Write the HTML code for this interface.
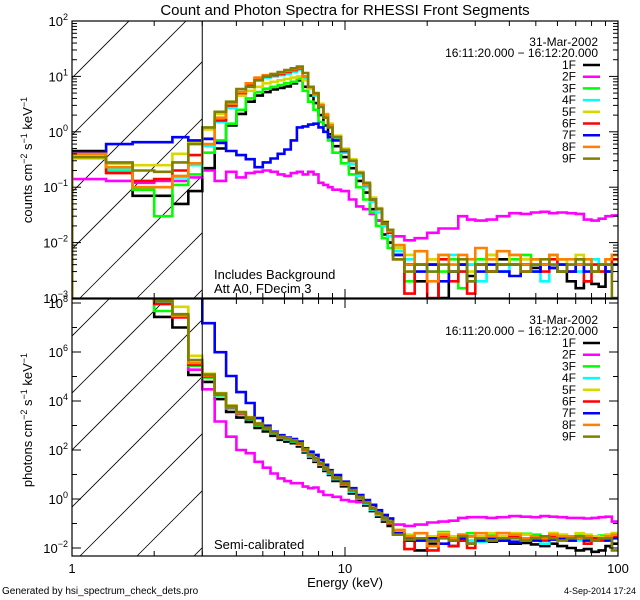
<!DOCTYPE html>
<html><head><meta charset="utf-8"><style>
html,body{margin:0;padding:0;background:#fff;}
svg{display:block;font-family:"Liberation Sans",sans-serif;}
</style></head><body>
<svg id="chart" width="640" height="600" viewBox="0 0 640 600">
<defs>
<clipPath id="cTop"><rect x="72" y="21" width="546" height="277"/></clipPath>
<clipPath id="cBot"><rect x="72" y="299" width="546" height="257"/></clipPath>
<clipPath id="hTop"><rect x="72" y="21" width="130" height="277"/></clipPath>
<clipPath id="hBot"><rect x="72" y="299" width="130" height="257"/></clipPath>
</defs>
<text x="345" y="15" text-anchor="middle" font-size="15">Count and Photon Spectra for RHESSI Front Segments</text>
<g id="g"></g>
<text x="345" y="587" text-anchor="middle" font-size="13">Energy (keV)</text>
<text x="2" y="594" font-size="10">Generated by hsi_spectrum_check_dets.pro</text>
<text x="636" y="594" text-anchor="end" font-size="9">4-Sep-2014 17:24</text>
<text x="214" y="279" font-size="13">Includes Background</text>
<text x="214" y="293" font-size="13">Att A0, FDecim 3</text>
<text x="214" y="549" font-size="13">Semi-calibrated</text>
</svg>
<script>
const edges=[1,1.333,1.667,2,2.333,2.667,3,3.333,3.667,4,4.333,4.667,5,5.333,5.667,6,6.333,6.667,7,7.333,7.667,8,8.333,8.667,9,9.667,10.333,11,11.667,12.333,13,13.667,14.333,15,16.5,18,20,22,24,26,28,30,33,36,40,44,48,52,56,60,65,70,75,80,85,90,95,100];
const detectors=["1F","2F","3F","4F","5F","6F","7F","8F","9F"];
const colors=["#000000","#ff00ff","#00ff00","#00ffff","#d8d800","#ff0000","#0000ff","#ff8000","#808000"];
const xTicks=[1,10,100];
const topTickExps=[2,1,0,-1,-2,-3];
const botTickExps=[8,6,4,2,0,-2];
// count spectra
const cnt1F=[0.45,0.27,0.07,0.07,0.05,0.085, 0.22,0.5,1.3,2.1,3.5,4.5,5.2,5.8,6.2,6.6,7.5,8.5,6.5,4.5,3.3,2.0,1.3,0.9, 0.55,0.35,0.22,0.13,0.08,0.04,0.025,0.014,0.01, 0.006,0.004,0.002,0.004,0.001,0.003,0.004,0.0025,0.004,0.003,0.005,0.004,0.004,0.0035,0.004,0.0035,0.003,0.002,0.0015,0.002,0.0018,0.0016,0.003,0.004];
const cnt2F=[0.14,0.13,0.12,0.13,0.13,0.15, 0.2,0.13,0.19,0.15,0.18,0.19,0.2,0.19,0.17,0.16,0.18,0.19,0.17,0.19,0.17,0.12,0.11,0.1, 0.09,0.085,0.06,0.045,0.04,0.033,0.025,0.02,0.016, 0.013,0.011,0.012,0.015,0.018,0.018,0.03,0.026,0.025,0.026,0.03,0.034,0.033,0.035,0.036,0.034,0.035,0.034,0.033,0.026,0.025,0.027,0.03,0.031];
const cnt3F=[0.4,0.2,0.09,0.03,0.11,0.17, 0.42,0.7,1.4,2.5,4,5.2,6,6.5,7,7.5,8,9,5.5,3.5,2.5,1.5,1.0,0.7, 0.42,0.27,0.17,0.1,0.06,0.035,0.02,0.012,0.008, 0.008,0.002,0.004,0.005,0.003,0.005,0.0015,0.004,0.005,0.006,0.004,0.005,0.006,0.005,0.004,0.006,0.005,0.004,0.005,0.004,0.003,0.004,0.005,0.005];
const cnt4F=[0.4,0.21,0.1,0.1,0.15,0.25, 0.55,1.5,2.7,4.5,6.5,8.5,9.5,10,10.5,11,12,13,9,6,4.5,3,2,1.3, 0.75,0.42,0.26,0.16,0.1,0.055,0.035,0.02,0.013, 0.007,0.005,0.004,0.003,0.005,0.006,0.003,0.004,0.002,0.005,0.003,0.004,0.005,0.003,0.002,0.004,0.005,0.004,0.003,0.004,0.005,0.004,0.003,0.004];
const cnt5F=[0.33,0.27,0.25,0.25,0.4,0.65, 1.1,2.1,3.0,4.5,5.5,6.5,7.5,8,8.5,9,9.5,10,8.5,6,4.8,3.2,2.1,1.4, 0.85,0.5,0.32,0.19,0.12,0.065,0.042,0.024,0.017, 0.008,0.006,0.004,0.005,0.006,0.004,0.005,0.003,0.004,0.006,0.004,0.006,0.005,0.005,0.004,0.006,0.005,0.004,0.006,0.005,0.004,0.003,0.005,0.006];
const cnt6F=[0.4,0.18,0.13,0.14,0.2,0.38, 0.75,1.6,3.0,5,7,9,10,10.5,11,12,13,14,10,6.5,4.8,3,2,1.3, 0.8,0.45,0.3,0.18,0.11,0.06,0.04,0.022,0.015, 0.005,0.0012,0.004,0.001,0.005,0.002,0.003,0.0012,0.004,0.003,0.004,0.004,0.003,0.004,0.003,0.005,0.004,0.003,0.004,0.002,0.004,0.003,0.004,0.005];
const cnt7F=[0.42,0.6,0.65,0.65,0.8,0.7, 0.74,0.63,0.45,0.38,0.32,0.23,0.28,0.33,0.4,0.48,0.7,1.2,1.25,1.35,1.4,1.2,1.0,0.8, 0.7,0.45,0.3,0.18,0.11,0.06,0.04,0.023,0.017, 0.006,0.004,0.003,0.004,0.002,0.003,0.004,0.002,0.003,0.004,0.003,0.0025,0.004,0.003,0.004,0.0035,0.004,0.003,0.004,0.003,0.003,0.004,0.003,0.004];
const cnt8F=[0.4,0.23,0.1,0.1,0.16,0.27, 0.6,1.8,3.2,5.2,7.5,9.5,10.5,11,11.5,12.5,13.5,14.5,10,6.5,4.8,3,2,1.3, 0.8,0.47,0.3,0.18,0.11,0.06,0.04,0.022,0.016, 0.009,0.004,0.007,0.002,0.006,0.004,0.006,0.005,0.008,0.005,0.007,0.006,0.004,0.005,0.004,0.006,0.005,0.005,0.004,0.005,0.003,0.004,0.005,0.006];
const cnt9F=[0.35,0.28,0.2,0.19,0.28,0.6, 1.2,2.3,3.5,5.9,6.5,8.5,10,11,12,13,14,15,11.5,6.5,5,2.8,1.8,1.2, 0.8,0.47,0.3,0.18,0.12,0.06,0.04,0.022,0.017, 0.005,0.003,0.004,0.003,0.004,0.003,0.005,0.002,0.004,0.003,0.004,0.004,0.003,0.004,0.005,0.004,0.003,0.004,0.005,0.004,0.003,0.004,0.004,0.001];
// photon spectra
const ph1F=[1e9,1e9,1e9,2.7e7,1e7,1.15e5, 6e4,1.2e4,3.6e3,2.1e3,1.4e3,800,570,380,260,220,190,140,80,48,33,21,14,9.5, 5.5,3.3,1.7,0.9,0.55,0.32,0.19,0.12,0.08, 0.04,0.02,0.008,0.015,0.03,0.012,0.02,0.015,0.02,0.018,0.02,0.015,0.016,0.014,0.012,0.015,0.012,0.01,0.008,0.009,0.007,0.008,0.012,0.015];
const ph2F=[1e9,1e9,1e9,1.3e8,2.6e7,1.9e5, 3e4,1.45e3,350,100,74,33,19,11,6.9,5.4,4.4,4.4,3.2,2.75,2.95,2,1.45,1.45, 1.23,0.91,0.8,0.74,0.63,0.49,0.3,0.22,0.16, 0.09,0.08,0.09,0.11,0.12,0.13,0.17,0.18,0.18,0.17,0.18,0.2,0.19,0.18,0.2,0.19,0.18,0.17,0.17,0.16,0.17,0.18,0.19,0.12];
const ph3F=[1e9,1e9,1e9,4.7e7,2.8e7,2.7e5, 9e4,1.7e4,5e3,2.8e3,1.8e3,1e3,720,470,310,265,225,165,95,58,40,26,16.5,11.5, 6.8,4,2.1,1.1,0.67,0.38,0.23,0.15,0.1, 0.05,0.03,0.02,0.03,0.045,0.025,0.035,0.04,0.03,0.035,0.04,0.03,0.038,0.035,0.03,0.04,0.035,0.03,0.035,0.03,0.028,0.032,0.035,0.04];
const ph4F=[1e9,1e9,1e9,1e8,3e7,3e5, 1e5,1.75e4,5.4e3,3e3,1.85e3,1.05e3,730,480,320,270,230,170,90,55,38,25,16,11, 6.5,3.9,2,1.05,0.65,0.37,0.22,0.14,0.1, 0.045,0.028,0.025,0.02,0.03,0.02,0.025,0.02,0.018,0.03,0.025,0.03,0.025,0.02,0.015,0.025,0.03,0.025,0.02,0.025,0.03,0.025,0.022,0.03];
const ph5F=[1e9,1e9,1e9,1.3e8,7e7,7e5, 1.3e5,2.1e4,6.5e3,3.6e3,2.2e3,1.25e3,850,540,360,310,260,200,120,70,48,30,20,13.5, 7.8,4.6,2.4,1.3,0.78,0.45,0.28,0.18,0.12, 0.05,0.035,0.025,0.03,0.04,0.03,0.035,0.028,0.03,0.04,0.03,0.04,0.035,0.03,0.03,0.04,0.035,0.03,0.04,0.035,0.03,0.028,0.035,0.04];
const ph6F=[1e9,1e9,1e9,9e7,2.6e7,3e5, 1e5,1.8e4,5.6e3,3.1e3,1.9e3,1.1e3,760,500,330,280,240,180,100,62,42,27,17,12, 7,4.2,2.2,1.15,0.7,0.4,0.25,0.15,0.1, 0.035,0.009,0.025,0.008,0.03,0.012,0.02,0.01,0.025,0.02,0.025,0.03,0.022,0.025,0.02,0.03,0.025,0.02,0.025,0.015,0.025,0.02,0.025,0.03];
const ph7F=[1e9,1e9,1e9,1e9,1e9,1e9, 1.5e7,9.8e5,1.05e5,2.3e4,8.3e3,2e3,980,560,400,320,280,220,117,85,63,39,25,15, 9.5,5.1,2.75,1.45,0.91,0.58,0.35,0.22,0.16, 0.04,0.025,0.02,0.025,0.015,0.02,0.025,0.015,0.02,0.025,0.02,0.018,0.025,0.02,0.025,0.022,0.025,0.02,0.025,0.02,0.02,0.025,0.02,0.025];
const ph8F=[1e9,1e9,1e9,1.3e8,3e7,3.6e5, 1.1e5,1.9e4,6e3,3.3e3,2e3,1.15e3,790,510,340,290,245,185,105,64,44,28,18,12.5, 7.2,4.3,2.2,1.2,0.72,0.41,0.25,0.16,0.11, 0.055,0.03,0.04,0.012,0.035,0.025,0.035,0.03,0.04,0.03,0.04,0.035,0.025,0.03,0.025,0.035,0.03,0.03,0.025,0.03,0.02,0.025,0.03,0.035];
const ph9F=[1e9,1e9,1e9,1.2e8,3.5e7,4.7e5, 1.2e5,2e4,6.3e3,3.5e3,2.1e3,1.2e3,810,520,350,300,250,190,110,66,46,29,19,13, 7.4,4.4,2.3,1.2,0.74,0.42,0.26,0.17,0.12, 0.035,0.022,0.025,0.02,0.025,0.02,0.03,0.015,0.025,0.02,0.025,0.025,0.02,0.025,0.03,0.025,0.02,0.025,0.03,0.025,0.02,0.025,0.025,0.008];
const countSeries=[cnt1F,cnt2F,cnt3F,cnt4F,cnt5F,cnt6F,cnt7F,cnt8F,cnt9F];
const photonSeries=[ph1F,ph2F,ph3F,ph4F,ph5F,ph6F,ph7F,ph8F,ph9F];

const NS="http://www.w3.org/2000/svg";
const L=72,R=618;
const xs=e=>L+273*Math.log10(e);
const topP={t:21,b:298,y:v=>21+(2-Math.log10(v))*55.4,clip:"cTop",hatch:"hTop",lo:-3,hi:2,isBot:false};
const botP={t:299,b:556,y:v=>352+(6-Math.log10(v))*24.5,clip:"cBot",hatch:"hBot",lo:-3,hi:9,isBot:true};
const root=document.getElementById('g');
function mk(tag,attrs,parent){const e=document.createElementNS(NS,tag);for(const k in attrs)e.setAttribute(k,attrs[k]);(parent||root).appendChild(e);return e;}

function panel(P,series,name,fromBottom){
  const g=mk('g',{});
  
  
  const hg=mk('g',{'clip-path':'url(#'+P.hatch+')',stroke:'#000','stroke-width':'0.8'},g);
  
  
  for(let k=-8;k<8;k++){const x0=80+57*k;mk('line',{x1:x0,y1:P.b,x2:x0+600,y2:P.b-600},hg);}
  const sg=mk('g',{'clip-path':'url(#'+P.clip+')',fill:'none','stroke-width':'2.6'},g);
  series.forEach((vals,i)=>{
    let d=fromBottom?`M${xs(edges[0])},${P.b+5}`:`M${xs(edges[0])},${P.y(vals[0])}`;
    for(let j=0;j<vals.length;j++){
      const yy=Math.max(P.t-5,Math.min(P.b+5,P.y(vals[j])));
      d+=`L${xs(edges[j]).toFixed(1)},${yy.toFixed(1)}L${xs(edges[j+1]).toFixed(1)},${yy.toFixed(1)}`;
    }
    const p=mk('path',{d:d,stroke:colors[i]},sg);
    
    
  });
  const vl=mk('line',{x1:xs(3),y1:P.t,x2:xs(3),y2:P.b,stroke:'#000','stroke-width':'1'},g);
  
  
  const fr=mk('rect',{x:L,y:P.t,width:R-L,height:P.b-P.t,fill:'none',stroke:'#000','stroke-width':'1.2'},g);
  
  
  const tg=mk('g',{stroke:'#000','stroke-width':'1'},g);
  for(let dec=1;dec<100;dec*=10)for(let m=1;m<10;m++){
    const x=xs(dec*m);const len=m===1?9:5;
    mk('line',{x1:x,y1:P.b,x2:x,y2:P.b-len},tg);mk('line',{x1:x,y1:P.t,x2:x,y2:P.t+len},tg);
  }
  for(let ex=P.lo;ex<=P.hi;ex++)for(let m=1;m<10;m++){
    const y=P.y(m*Math.pow(10,ex));if(y<P.t-0.5||y>P.b+0.5)continue;
    if(P.isBot&&m>1)continue;
    const l2=P.isBot?(ex%2===0?9:5):(m===1?9:5);
    mk('line',{x1:L,y1:y,x2:L+l2,y2:y},tg);mk('line',{x1:R,y1:y,x2:R-l2,y2:y},tg);
  }
}
panel(topP,countSeries,'count',true);
panel(botP,photonSeries,'photon',false);

function expLabel(x,y,ex,name){
  const t=mk('text',{x:x,y:y,'text-anchor':'end','font-size':'13'});
  
  
  const a=document.createElementNS(NS,'tspan');a.textContent='10';t.appendChild(a);
  const b=document.createElementNS(NS,'tspan');b.setAttribute('dy','-6');b.setAttribute('font-size','9');b.textContent=(ex<0?'\u2212'+(-ex):ex);t.appendChild(b);
}
topTickExps.forEach(ex=>expLabel(68,topP.y(Math.pow(10,ex))+5,ex,'count-y-tick-label'));
botTickExps.forEach(ex=>expLabel(68,botP.y(Math.pow(10,ex))+5,ex,'photon-y-tick-label'));
xTicks.forEach(v=>{const t=mk('text',{x:xs(v),y:573,'text-anchor':'middle','font-size':'13'});t.textContent=v;
  
  });

function yTitle(cx,cy,word,name){
  const t=mk('text',{x:0,y:0,'text-anchor':'middle','font-size':'13',transform:`translate(${cx},${cy}) rotate(-90)`});
  
  
  const parts=[[word+' cm',0],['\u22122',-5],[' s',5],['\u22121',-5],[' keV',5],['\u22121',-5]];
  parts.forEach(([s,dy],k)=>{const sp=document.createElementNS(NS,'tspan');sp.textContent=s;if(k)sp.setAttribute('dy',dy);if(s.startsWith('\u2212'))sp.setAttribute('font-size','9');t.appendChild(sp);});
}
yTitle(32,160,'counts','count-y-axis-title');
yTitle(32,420,'photons','photon-y-axis-title');

function legend(off,name){
  const g=mk('g',{});
  
  
  const d=mk('text',{x:598,y:46+off,'text-anchor':'end','font-size':'12'},g);d.textContent='31-Mar-2002';
  const t=mk('text',{x:598,y:57+off,'text-anchor':'end','font-size':'12'},g);t.textContent='16:11:20.000 \u2212 16:12:20.000';
  detectors.forEach((n,i)=>{
    const y=65+off+i*11.7;
    const lt=mk('text',{x:576,y:y+4,'text-anchor':'end','font-size':'12'},g);lt.textContent=n;
    
    
    mk('line',{x1:583,y1:y,x2:600,y2:y,stroke:colors[i],'stroke-width':'2.5'},g);
  });
}
legend(0,'count-legend');
legend(278,'photon-legend');
</script>
</body></html>
